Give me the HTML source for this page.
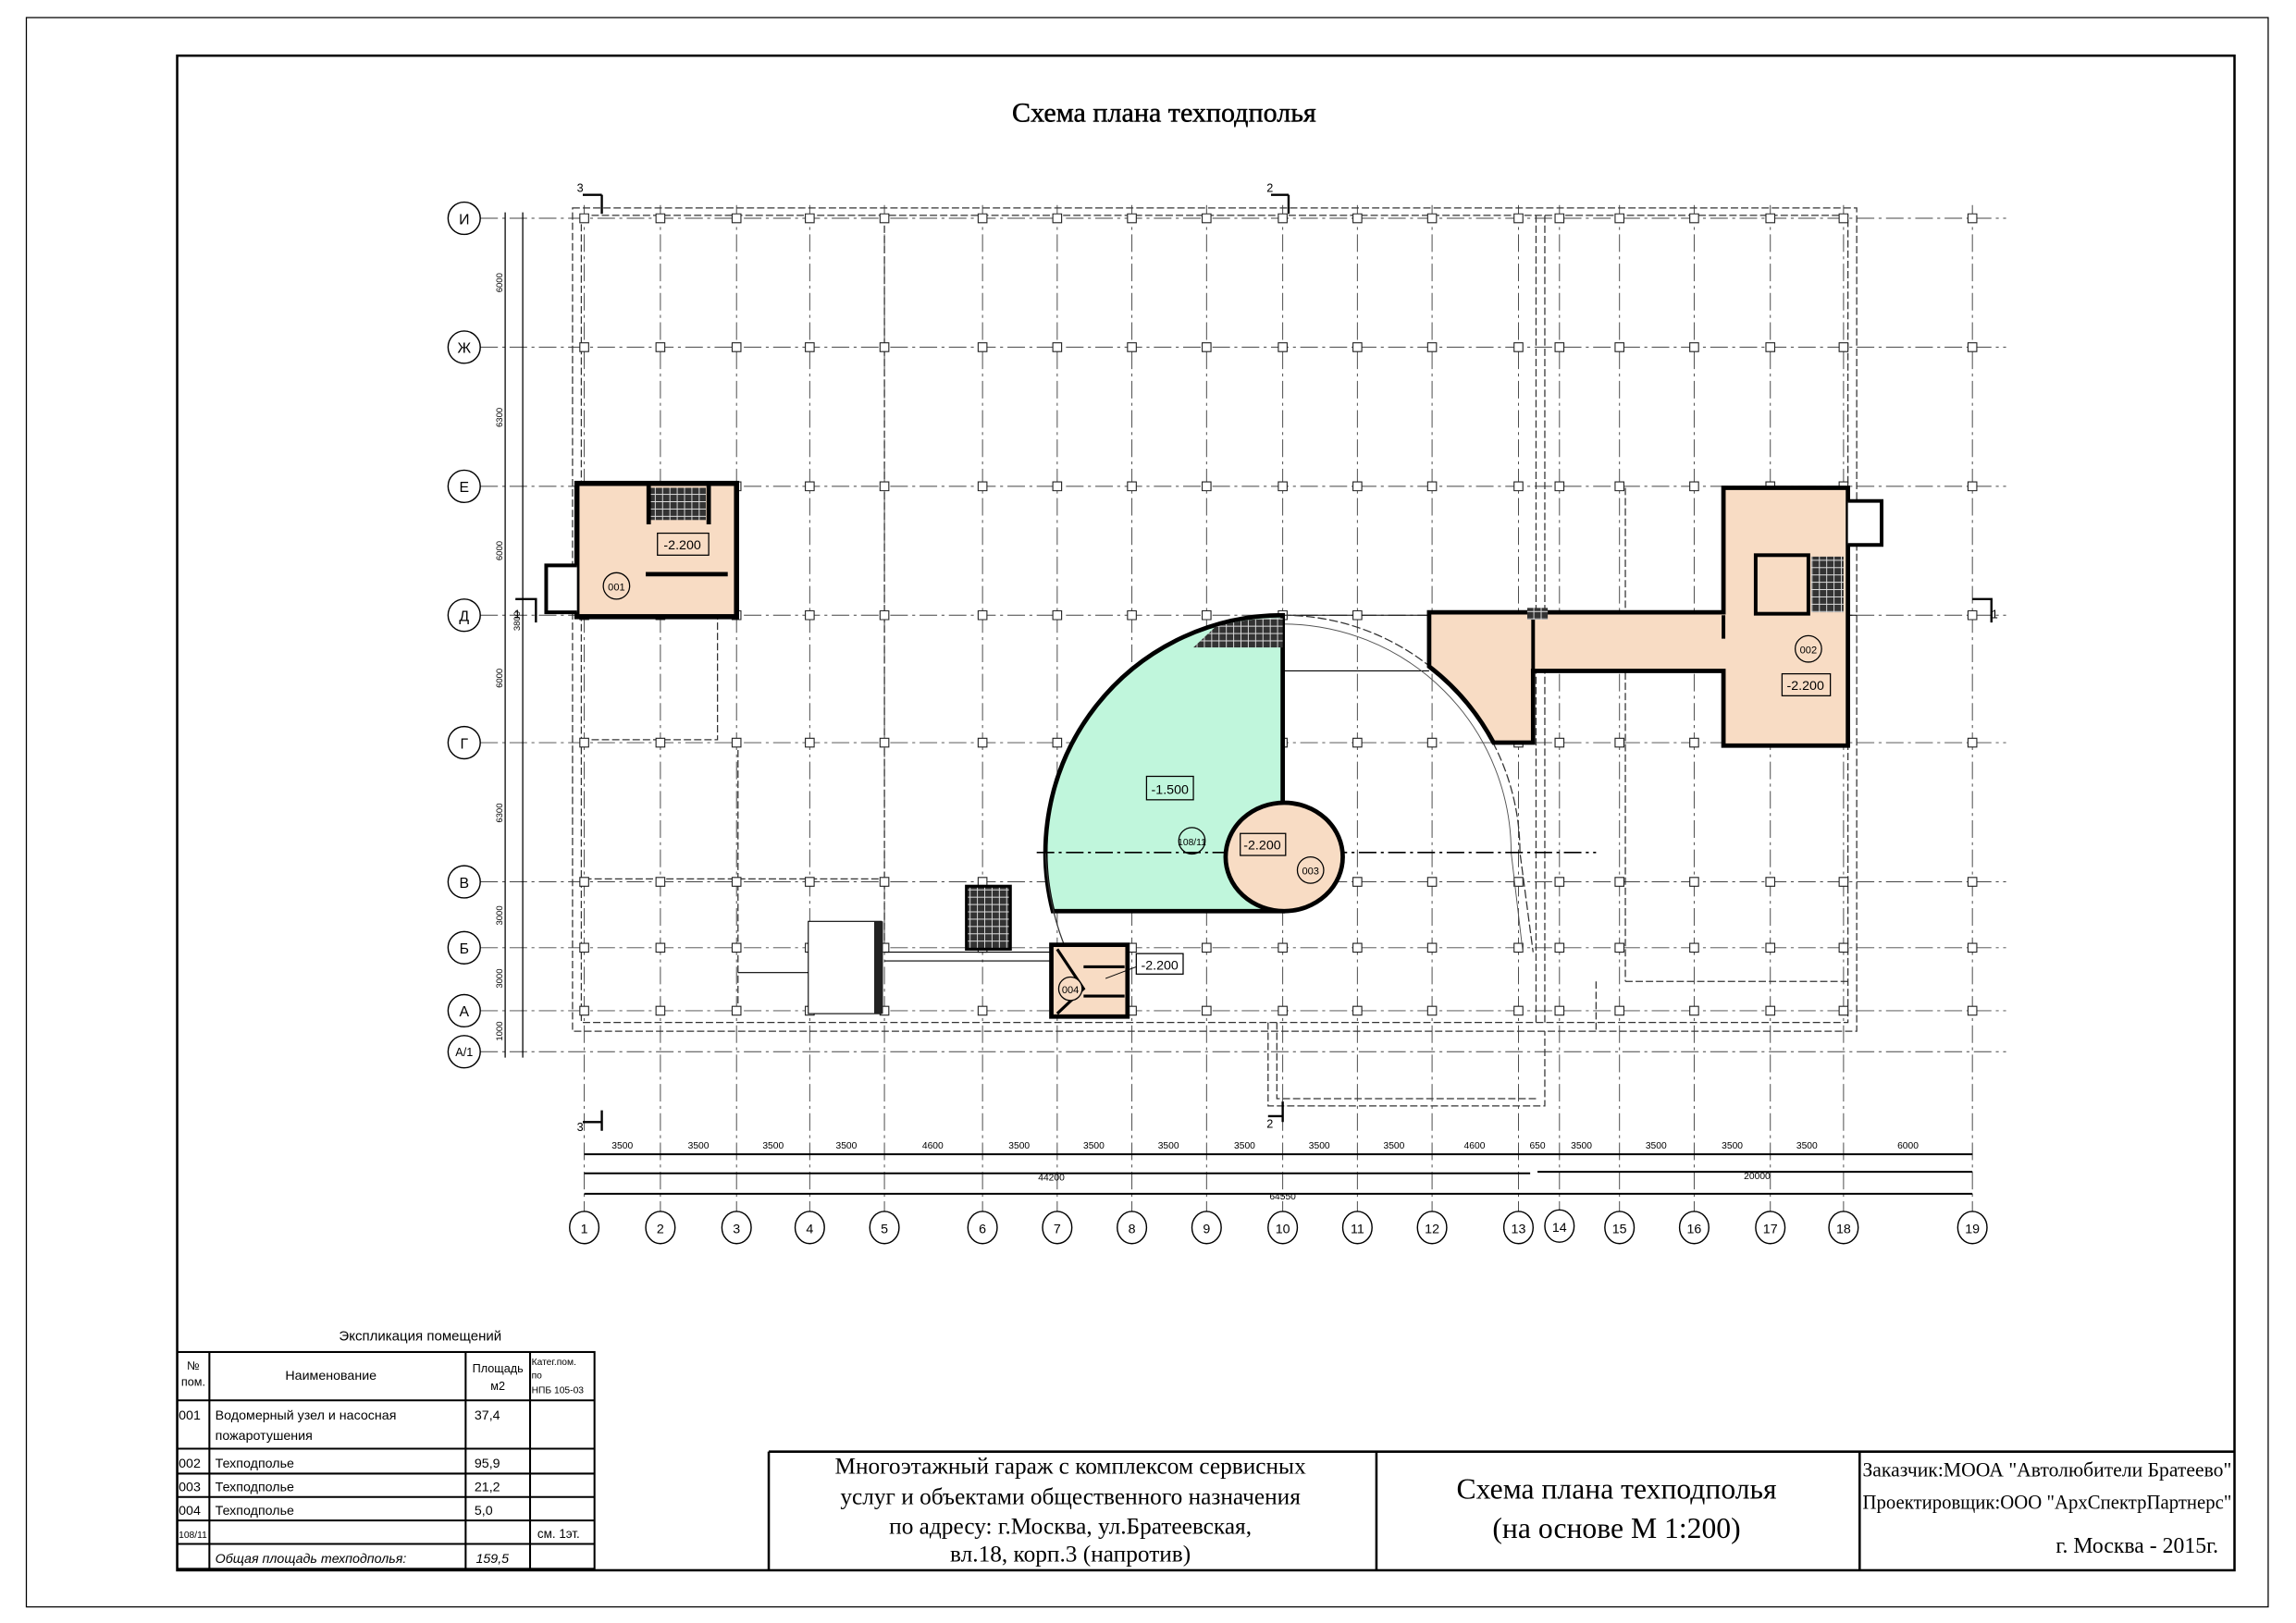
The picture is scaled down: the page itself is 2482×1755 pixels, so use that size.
<!DOCTYPE html>
<html><head><meta charset="utf-8"><style>
html,body{margin:0;padding:0;background:#fff;}
svg{display:block;}
text{font-family:"Liberation Sans","DejaVu Sans",sans-serif;}
text.s,.s text{font-family:"Liberation Serif","DejaVu Serif",serif;}
.g{stroke:#444;stroke-width:0.6;stroke-dasharray:12 3 2 3;fill:none;}
.d{stroke:#333;stroke-width:0.8;stroke-dasharray:5 2;fill:none;}
.w{stroke:#000;stroke-width:3;fill:none;}
.t{stroke:#000;stroke-width:0.7;fill:none;}
</style></head><body>
<svg width="2482" height="1755" viewBox="0 0 1568 1108" preserveAspectRatio="none" xmlns="http://www.w3.org/2000/svg">
<defs>
<pattern id="h" width="5" height="5" patternUnits="userSpaceOnUse"><rect width="5" height="5" fill="#333"/><path d="M0 2.5h5M2.5 0v5" stroke="#ddd" stroke-width="0.6"/></pattern>
<path id="rs" fill="#fff" stroke="#222" stroke-width="0.7" d="M396 -3h6v6h-6zM448 -3h6v6h-6zM500 -3h6v6h-6zM550 -3h6v6h-6zM601 -3h6v6h-6zM668 -3h6v6h-6zM719 -3h6v6h-6zM770 -3h6v6h-6zM821 -3h6v6h-6zM873 -3h6v6h-6zM924 -3h6v6h-6zM975 -3h6v6h-6zM1034 -3h6v6h-6zM1062 -3h6v6h-6zM1103 -3h6v6h-6zM1154 -3h6v6h-6zM1206 -3h6v6h-6zM1256 -3h6v6h-6zM1344 -3h6v6h-6z"/>
</defs>
<rect width="1568" height="1108" fill="#fff"/>
<rect x="18" y="12" width="1531" height="1085" fill="none" stroke="#000" stroke-width="0.8"/>
<rect x="121" y="38" width="1405" height="1034" fill="none" stroke="#000" stroke-width="1.6"/>
<text x="795" y="83" class="s" font-size="19" text-anchor="middle" stroke="#000" stroke-width="0.3">Схема плана техподполья</text>

<g class="g">
<path d="M399 140V827M451 140V827M503 140V827M553 140V827M604 140V827M671 140V827M722 140V827M773 140V827M824 140V827M876 140V827M927 140V827M978 140V827M1037 140V827M1065 140V827M1106 140V827M1157 140V827M1209 140V827M1259 140V827M1347 140V827"/>
<path d="M328 149H1370M328 237H1370M328 332H1370M328 420H1370M328 507H1370M328 602H1370M328 647H1370M328 690H1370M328 718H1370"/>
</g>
<g class="d">
<rect x="391" y="142" width="877" height="562"/>
<rect x="397" y="147" width="865" height="551"/>
<path d="M604 147V650M1049 147V700M1055 147V700M1110 333V670M866 698V755H1055V704M872 698V750H1049"/>
<path d="M397 505H490V420M504 505V690M399 600H600M1110 670H1262M1090 670V704"/>
</g>
<g class="t"><path d="M1038 420H1268M1038 426H1262M876 420H976M876 458H976"/></g>
<use href="#rs" y="149"/><use href="#rs" y="237"/><use href="#rs" y="332"/><use href="#rs" y="420"/><use href="#rs" y="507"/><use href="#rs" y="602"/><use href="#rs" y="647"/><use href="#rs" y="690"/>

<path d="M876 420A162 162 0 0 1 1038 582L1047 650" fill="none" stroke="#333" stroke-width="0.8" stroke-dasharray="6 2"/>
<path d="M876 426A156 156 0 0 1 1032 582L1040 650" fill="none" stroke="#555" stroke-width="0.6"/>

<path d="M876 420V622H719A162 162 0 0 1 876 420Z" fill="#c0f6dc" stroke="#000" stroke-width="3"/>
<path d="M815 442H876V422A162 162 0 0 0 830 428Z" fill="url(#h)"/>
<path d="M714 582Q716 620 728 648" fill="none" stroke="#333" stroke-width="0.8"/>
<path d="M708 582H1090" class="g" style="stroke:#000;stroke-width:1"/>
<ellipse cx="877" cy="585" rx="40" ry="37" fill="#f8dcc4" stroke="#000" stroke-width="3"/>
<rect x="783" y="530" width="32" height="16" fill="none" stroke="#000" stroke-width="0.8"/><text x="799" y="542" font-size="9" text-anchor="middle">-1.500</text>
<circle cx="814" cy="574" r="9" fill="none" stroke="#000" stroke-width="0.8"/><text x="814" y="577" font-size="6.5" text-anchor="middle">108/11</text>
<rect x="847" y="569" width="31" height="15" fill="#f8dcc4" stroke="#000" stroke-width="0.8"/><text x="862" y="580" font-size="9" text-anchor="middle">-2.200</text>
<circle cx="895" cy="594" r="9" fill="none" stroke="#000" stroke-width="0.8"/><text x="895" y="597" font-size="7" text-anchor="middle">003</text>

<rect x="718" y="645" width="52" height="49" fill="#f8dcc4" stroke="#000" stroke-width="3"/>
<path d="M722 648L740 675L722 692M740 660H768M740 680H768" stroke="#000" stroke-width="2" fill="none"/>
<circle cx="731" cy="675" r="8" fill="#f8dcc4" stroke="#000" stroke-width="0.8"/><text x="731" y="678" font-size="7" text-anchor="middle">004</text>
<rect x="776" y="651" width="32" height="14" fill="#fff" stroke="#000" stroke-width="0.8"/><text x="792" y="662" font-size="9" text-anchor="middle">-2.200</text>
<path d="M755 668L776 660" stroke="#000" stroke-width="0.6"/>
<rect x="660" y="605" width="30" height="43" fill="url(#h)" stroke="#000" stroke-width="2"/>
<rect x="552" y="629" width="50" height="63" fill="#fff" stroke="#000" stroke-width="0.7"/>
<rect x="597" y="629" width="6" height="63" fill="#222"/>
<path d="M504 664H552M604 650H718M604 656H718" class="t"/>

<rect x="394" y="330" width="109" height="91" fill="#f8dcc4" stroke="#000" stroke-width="3.5"/>
<rect x="444" y="333" width="38" height="22" fill="url(#h)"/>
<path d="M443 330V358M484 330V358M441 392H497" stroke="#000" stroke-width="3"/>
<rect x="449" y="364" width="35" height="15" fill="none" stroke="#000" stroke-width="0.8"/><text x="466" y="375" font-size="9" text-anchor="middle">-2.200</text>
<circle cx="421" cy="400" r="9" fill="none" stroke="#000" stroke-width="0.8"/><text x="421" y="403" font-size="7" text-anchor="middle">001</text>
<path d="M394 386H373V418H394" stroke="#000" stroke-width="2.5" fill="#fff"/>

<path d="M976 418H1177V333H1262V509H1177V458H1047V507H1020A162 162 0 0 0 976 455Z" fill="#f8dcc4" stroke="#000" stroke-width="3"/>
<rect x="1199" y="379" width="36" height="40" fill="#f8dcc4" stroke="#000" stroke-width="2.5"/>
<rect x="1237" y="380" width="22" height="38" fill="url(#h)"/>
<path d="M1177 420V436M1047 420V505" stroke="#000" stroke-width="2.5"/>
<path d="M1262 342H1285V372H1262" stroke="#000" stroke-width="2.5" fill="#fff"/>
<rect x="1043" y="415" width="14" height="8" fill="url(#h)"/>
<circle cx="1235" cy="443" r="9" fill="none" stroke="#000" stroke-width="0.8"/><text x="1235" y="446" font-size="7" text-anchor="middle">002</text>
<rect x="1217" y="460" width="33" height="15" fill="none" stroke="#000" stroke-width="0.8"/><text x="1233" y="471" font-size="9" text-anchor="middle">-2.200</text>

<g fill="#fff" stroke="#000" stroke-width="0.9">
<circle cx="317" cy="149" r="11"/><circle cx="317" cy="237" r="11"/><circle cx="317" cy="332" r="11"/><circle cx="317" cy="420" r="11"/><circle cx="317" cy="507" r="11"/><circle cx="317" cy="602" r="11"/><circle cx="317" cy="647" r="11"/><circle cx="317" cy="690" r="11"/><circle cx="317" cy="718" r="11"/>
</g>
<g font-size="10" text-anchor="middle">
<text x="317" y="153">И</text><text x="317" y="241">Ж</text><text x="317" y="336">Е</text><text x="317" y="424">Д</text><text x="317" y="511">Г</text><text x="317" y="606">В</text><text x="317" y="651">Б</text><text x="317" y="694">А</text><text x="317" y="721" font-size="8">А/1</text>
</g>
<path d="M345 145V722M357 145V722" stroke="#000" stroke-width="0.8"/>
<g font-size="6" text-anchor="middle">
<text transform="translate(343 193) rotate(-90)">6000</text><text transform="translate(343 285) rotate(-90)">6300</text><text transform="translate(343 376) rotate(-90)">6000</text><text transform="translate(343 463) rotate(-90)">6000</text><text transform="translate(343 555) rotate(-90)">6300</text><text transform="translate(343 625) rotate(-90)">3000</text><text transform="translate(343 668) rotate(-90)">3000</text><text transform="translate(343 704) rotate(-90)">1000</text><text transform="translate(355 424) rotate(-90)">3800</text>
</g>
<g fill="#fff" stroke="#000" stroke-width="0.9">
<ellipse cx="399" cy="838" rx="10" ry="11"/><ellipse cx="451" cy="838" rx="10" ry="11"/><ellipse cx="503" cy="838" rx="10" ry="11"/><ellipse cx="553" cy="838" rx="10" ry="11"/><ellipse cx="604" cy="838" rx="10" ry="11"/><ellipse cx="671" cy="838" rx="10" ry="11"/><ellipse cx="722" cy="838" rx="10" ry="11"/><ellipse cx="773" cy="838" rx="10" ry="11"/><ellipse cx="824" cy="838" rx="10" ry="11"/><ellipse cx="876" cy="838" rx="10" ry="11"/><ellipse cx="927" cy="838" rx="10" ry="11"/><ellipse cx="978" cy="838" rx="10" ry="11"/><ellipse cx="1037" cy="838" rx="10" ry="11"/><ellipse cx="1065" cy="837" rx="10" ry="11"/><ellipse cx="1106" cy="838" rx="10" ry="11"/><ellipse cx="1157" cy="838" rx="10" ry="11"/><ellipse cx="1209" cy="838" rx="10" ry="11"/><ellipse cx="1259" cy="838" rx="10" ry="11"/><ellipse cx="1347" cy="838" rx="10" ry="11"/>
</g>
<g font-size="9" text-anchor="middle">
<text x="399" y="842">1</text><text x="451" y="842">2</text><text x="503" y="842">3</text><text x="553" y="842">4</text><text x="604" y="842">5</text><text x="671" y="842">6</text><text x="722" y="842">7</text><text x="773" y="842">8</text><text x="824" y="842">9</text><text x="876" y="842">10</text><text x="927" y="842">11</text><text x="978" y="842">12</text><text x="1037" y="842">13</text><text x="1065" y="841">14</text><text x="1106" y="842">15</text><text x="1157" y="842">16</text><text x="1209" y="842">17</text><text x="1259" y="842">18</text><text x="1347" y="842">19</text>
</g>
<path d="M399 788H1347M399 801H1045M1050 800H1347M399 815H1347" stroke="#000" stroke-width="1.3"/>
<g font-size="6.5" text-anchor="middle">
<text x="425" y="784">3500</text><text x="477" y="784">3500</text><text x="528" y="784">3500</text><text x="578" y="784">3500</text><text x="637" y="784">4600</text><text x="696" y="784">3500</text><text x="747" y="784">3500</text><text x="798" y="784">3500</text><text x="850" y="784">3500</text><text x="901" y="784">3500</text><text x="952" y="784">3500</text><text x="1007" y="784">4600</text><text x="1050" y="784">650</text><text x="1080" y="784">3500</text><text x="1131" y="784">3500</text><text x="1183" y="784">3500</text><text x="1234" y="784">3500</text><text x="1303" y="784">6000</text>
<text x="718" y="806">44200</text><text x="1200" y="805">20000</text><text x="876" y="819">64550</text>
</g>
<g stroke="#000" stroke-width="1.5" fill="none"><path d="M411 133V146M398 133H411M411 758V772M398 766H411M880 133V146M868 133H880M876 752V766M866 762H876M352 409H366V425M1347 409H1360V425"/></g>
<g font-size="8"><text x="394" y="131">3</text><text x="394" y="772">3</text><text x="865" y="131">2</text><text x="865" y="770">2</text><text x="351" y="422">1</text><text x="1360" y="422">1</text></g>

<text x="287" y="915" font-size="9.5" text-anchor="middle">Экспликация помещений</text>
<g stroke="#000" stroke-width="1.3" fill="none">
<rect x="121" y="923" width="285" height="148"/>
<path d="M143 923V1071M318 923V1071M362 923V1071M121 956H406M121 989H406M121 1006H406M121 1022H406M121 1038H406M121 1054H406"/>
</g>
<g font-size="9">
<text x="132" y="935" font-size="8" text-anchor="middle">№</text><text x="132" y="946" font-size="8" text-anchor="middle">пом.</text>
<text x="226" y="942" text-anchor="middle">Наименование</text>
<text x="340" y="937" font-size="8" text-anchor="middle">Площадь</text><text x="340" y="949" font-size="8" text-anchor="middle">м2</text>
<text x="363" y="932" font-size="6.5">Катег.пом.</text><text x="363" y="941" font-size="6.5">по</text><text x="363" y="951" font-size="6.5">НПБ 105-03</text>
<text x="122" y="969">001</text><text x="147" y="969">Водомерный узел и насосная</text><text x="147" y="983">пожаротушения</text><text x="324" y="969">37,4</text>
<text x="122" y="1002">002</text><text x="147" y="1002">Техподполье</text><text x="324" y="1002">95,9</text>
<text x="122" y="1018">003</text><text x="147" y="1018">Техподполье</text><text x="324" y="1018">21,2</text>
<text x="122" y="1034">004</text><text x="147" y="1034">Техподполье</text><text x="324" y="1034">5,0</text>
<text x="122" y="1050" font-size="6.5">108/11</text><text x="367" y="1050" font-size="8.5">см. 1эт.</text>
<text x="147" y="1067" font-style="italic">Общая площадь техподполья:</text><text x="325" y="1067" font-style="italic">159,5</text>
</g>

<g stroke="#000" stroke-width="1.6" fill="none"><path d="M525 991H1526M525 991V1072M940 991V1072M1270 991V1072"/></g>
<g class="s" font-size="16" text-anchor="middle">
<text x="731" y="1006">Многоэтажный гараж с комплексом сервисных</text>
<text x="731" y="1027">услуг и объектами общественного назначения</text>
<text x="731" y="1047">по адресу: г.Москва, ул.Братеевская,</text>
<text x="731" y="1066">вл.18, корп.3 (напротив)</text>
<text x="1104" y="1023" font-size="20">Схема плана техподполья</text>
<text x="1104" y="1050" font-size="20">(на основе М 1:200)</text>
</g>
<g class="s" font-size="14">
<text x="1272" y="1008" textLength="252" lengthAdjust="spacingAndGlyphs">Заказчик:МООА "Автолюбители Братеево"</text>
<text x="1272" y="1030" textLength="252" lengthAdjust="spacingAndGlyphs">Проектировщик:ООО "АрхСпектрПартнерс"</text>
<text x="1515" y="1060" font-size="15" text-anchor="end">г. Москва - 2015г.</text>
</g>
</svg>
</body></html>
